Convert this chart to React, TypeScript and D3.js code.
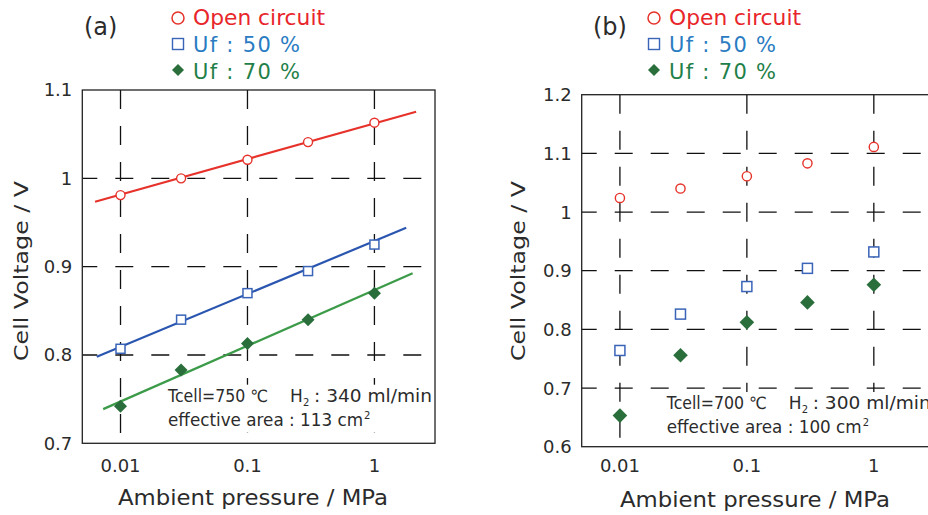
import React from "react";
import * as d3 from "d3";

// ---------- data ----------
const pressures = [0.01, 0.03, 0.1, 0.3, 1];

const ocvA = [0.981, 1.0, 1.021, 1.041, 1.063];
const uf50A = [0.807, 0.84, 0.87, 0.895, 0.925];
const uf70A = [0.742, 0.783, 0.813, 0.84, 0.87];

const fitOcvAX = [0.0063, 2.13];
const fitOcvAY = [0.9735, 1.0754];
const fitUf50AX = [0.0065, 1.78];
const fitUf50AY = [0.798, 0.944];
const fitUf70AX = [0.0073, 2.0];
const fitUf70AY = [0.7387, 0.8924];

const ocvB = [1.024, 1.04, 1.061, 1.083, 1.111];
const uf50B = [0.764, 0.826, 0.873, 0.904, 0.932];
const uf70B = [0.653, 0.756, 0.812, 0.846, 0.876];

const xTicks = [0.01, 0.1, 1];
const xTickLabels = ["0.01", "0.1", "1"];
const yTicksA = [0.7, 0.8, 0.9, 1.0, 1.1];
const yTickLabelsA = ["0.7", "0.8", "0.9", "1", "1.1"];
const yTicksB = [0.6, 0.7, 0.8, 0.9, 1.0, 1.1, 1.2];
const yTickLabelsB = ["0.6", "0.7", "0.8", "0.9", "1", "1.1", "1.2"];

const legendLabels = ["Open circuit", "Uf : 50 %", "Uf : 70 %"];

// ---------- styles ----------
const FONT = "'DejaVu Sans', 'Noto Sans', sans-serif";
const TEXT = "#2b2b2b";
const RED = "#e6322a";
const BLUE_LINE = "#2a56b0";
const BLUE_MARK = "#3a64b8";
const GREEN_LINE = "#3c9b48";
const GREEN_MARK = "#2a6e3c";
const RED_TXT = "#e8252b";
const BLUE_TXT = "#2a7cc2";
const GREEN_TXT = "#1f8049";

type PanelProps = {
  left: number;
  top: number;
  width: number;
  height: number;
  yDomain: [number, number];
  yTicks: number[];
  yTickLabels: string[];
  hGrid: number[];
  ocv: number[];
  uf50: number[];
  uf70: number[];
  fits?: { x: number[]; y: number[]; color: string }[];
  label: string;
  labelX: number;
  legendX: number;
  annX: number;
  annY: number;
  annA: string;
  annB: string;
  annLine2: string;
  titleX: number;
  titleY: number;
  yTitleX: number;
  mr: number;
  sq: number;
  dm: number;
};

function Panel(p: PanelProps) {
  const x = d3.scaleLog().domain([0.005, 3]).range([p.left, p.left + p.width]);
  const y = d3.scaleLinear().domain(p.yDomain).range([p.top + p.height, p.top]);
  const line = d3
    .line<[number, number]>()
    .x((d) => x(d[0]))
    .y((d) => y(d[1]));
  const bottom = p.top + p.height;
  const right = p.left + p.width;
  const ax = p.annX;

  return (
    <g>
      {/* gridlines */}
      {xTicks.map((t, i) => (
        <line
          key={"vx" + i}
          x1={x(t)}
          x2={x(t)}
          y1={p.top}
          y2={bottom}
          stroke="#111"
          strokeWidth={1.3}
          strokeDasharray="19,17"
        />
      ))}
      {p.hGrid.map((t, i) => (
        <line
          key={"hy" + i}
          x1={p.left}
          x2={right}
          y1={y(t)}
          y2={y(t)}
          stroke="#111"
          strokeWidth={1.3}
          strokeDasharray="18,18"
          strokeDashoffset={3}
        />
      ))}
      {/* annotation background */}
      <rect x={ax - 3} y={p.annY - 17} width={right - ax + 2} height={48} fill="white" />
      {/* frame */}
      <rect
        x={p.left}
        y={p.top}
        width={p.width}
        height={p.height}
        fill="none"
        stroke="#222"
        strokeWidth={1.3}
      />
      {/* tick labels */}
      {p.yTicks.map((t, i) => (
        <text
          key={"yl" + i}
          x={p.left - 10}
          y={y(t)}
          dy="0.36em"
          textAnchor="end"
          fontSize={18}
          fill={TEXT}
        >
          {p.yTickLabels[i]}
        </text>
      ))}
      {xTicks.map((t, i) => (
        <text
          key={"xl" + i}
          x={x(t)}
          y={472}
          textAnchor="middle"
          fontSize={18}
          fill={TEXT}
        >
          {xTickLabels[i]}
        </text>
      ))}
      {/* axis titles */}
      <text
        x={p.titleX - 135}
        y={p.titleY}
        fontSize={21}
        fill={TEXT}
        textLength={270}
        lengthAdjust="spacingAndGlyphs"
      >
        Ambient pressure / MPa
      </text>
      <text
        transform={`translate(${p.yTitleX},${271 + 90}) rotate(-90)`}
        fontSize={20}
        fill={TEXT}
        textLength={180}
        lengthAdjust="spacingAndGlyphs"
      >
        Cell Voltage / V
      </text>
      {/* fit lines */}
      {(p.fits || []).map((f, i) => (
        <path
          key={"fit" + i}
          d={line(f.x.map((v, j) => [v, f.y[j]] as [number, number])) || ""}
          stroke={f.color}
          strokeWidth={2.2}
          fill="none"
        />
      ))}
      {/* markers */}
      {pressures.map((v, i) => (
        <circle
          key={"o" + i}
          cx={x(v)}
          cy={y(p.ocv[i])}
          r={p.mr}
          fill="white"
          stroke={RED}
          strokeWidth={1.4}
        />
      ))}
      {pressures.map((v, i) => (
        <rect
          key={"s" + i}
          x={x(v) - p.sq / 2}
          y={y(p.uf50[i]) - p.sq / 2}
          width={p.sq}
          height={p.sq}
          fill="white"
          stroke={BLUE_MARK}
          strokeWidth={1.5}
        />
      ))}
      {pressures.map((v, i) => {
        const cx = x(v);
        const cy = y(p.uf70[i]);
        return (
          <path
            key={"d" + i}
            d={`M${cx},${cy - p.dm}L${cx + p.dm},${cy}L${cx},${cy + p.dm}L${cx - p.dm},${cy}Z`}
            fill={GREEN_MARK}
          />
        );
      })}
      {/* panel label */}
      <text x={p.labelX} y={35} fontSize={24} fill={TEXT}>
        {p.label}
      </text>
      {/* legend */}
      <circle cx={p.legendX} cy={18} r={6} fill="white" stroke={RED} strokeWidth={1.5} />
      <rect x={p.legendX - 5.5} y={38.5} width={11} height={11} fill="white" stroke={BLUE_MARK} strokeWidth={1.4} />
      <path
        d={`M${p.legendX},${64}L${p.legendX + 6},${70}L${p.legendX},${76}L${p.legendX - 6},${70}Z`}
        fill={GREEN_MARK}
      />
      <text x={p.legendX + 15} y={25} fontSize={21} fill={RED_TXT} textLength={132} lengthAdjust="spacingAndGlyphs">
        {legendLabels[0]}
      </text>
      <text x={p.legendX + 15} y={52} fontSize={21} fill={BLUE_TXT} textLength={107} lengthAdjust="spacing">
        {legendLabels[1]}
      </text>
      <text x={p.legendX + 15} y={78.5} fontSize={21} fill={GREEN_TXT} textLength={107} lengthAdjust="spacing">
        {legendLabels[2]}
      </text>
      {/* annotation */}
      <text x={ax} y={p.annY} fontSize={17} fill={TEXT} textLength={100} lengthAdjust="spacingAndGlyphs">
        {p.annA}
      </text>
      <text x={ax + 122} y={p.annY} fontSize={17} fill={TEXT}>
        H
      </text>
      <text x={ax + 135} y={p.annY + 4} fontSize={10} fill={TEXT}>
        2
      </text>
      <text x={ax + 146} y={p.annY} fontSize={17} fill={TEXT} textLength={118} lengthAdjust="spacingAndGlyphs">
        {p.annB}
      </text>
      <text x={ax} y={p.annY + 24} fontSize={17} fill={TEXT} textLength={195} lengthAdjust="spacingAndGlyphs">
        {p.annLine2}
      </text>
      <text x={ax + 196} y={p.annY + 17} fontSize={10} fill={TEXT}>
        2
      </text>
    </g>
  );
}

export default function App() {
  return (
    <div style={{ position: "absolute", left: 0, top: 0 }}>
      <svg
        width={928}
        height={515}
        viewBox="0 0 928 515"
        style={{ display: "block", background: "white", fontFamily: FONT }}
      >
        <Panel
          left={82.3}
          top={90}
          width={352.7}
          height={353.3}
          yDomain={[0.7, 1.1]}
          yTicks={yTicksA}
          yTickLabels={yTickLabelsA}
          hGrid={[0.8, 0.9, 1.0]}
          ocv={ocvA}
          uf50={uf50A}
          uf70={uf70A}
          fits={[
            { x: fitOcvAX, y: fitOcvAY, color: RED },
            { x: fitUf50AX, y: fitUf50AY, color: BLUE_LINE },
            { x: fitUf70AX, y: fitUf70AY, color: GREEN_LINE },
          ]}
          label="(a)"
          labelX={84}
          legendX={178}
          annX={168}
          annY={401.7}
          annA="Tcell=750 ℃"
          annB=": 340 ml/min"
          annLine2="effective area : 113 cm"
          titleX={253}
          titleY={505}
          yTitleX={28}
          mr={4.5}
          sq={9}
          dm={6.5}
        />
        <Panel
          left={581.7}
          top={94.7}
          width={352.7}
          height={352}
          yDomain={[0.6, 1.2]}
          yTicks={yTicksB}
          yTickLabels={yTickLabelsB}
          hGrid={[0.7, 0.8, 0.9, 1.0, 1.1]}
          ocv={ocvB}
          uf50={uf50B}
          uf70={uf70B}
          label="(b)"
          labelX={593}
          legendX={654}
          annX={666.7}
          annY={409}
          annA="Tcell=700 ℃"
          annB=": 300 ml/min"
          annLine2="effective area : 100 cm"
          titleX={755}
          titleY={506.5}
          yTitleX={525}
          mr={4.6}
          sq={10}
          dm={7.3}
        />
      </svg>
    </div>
  );
}
